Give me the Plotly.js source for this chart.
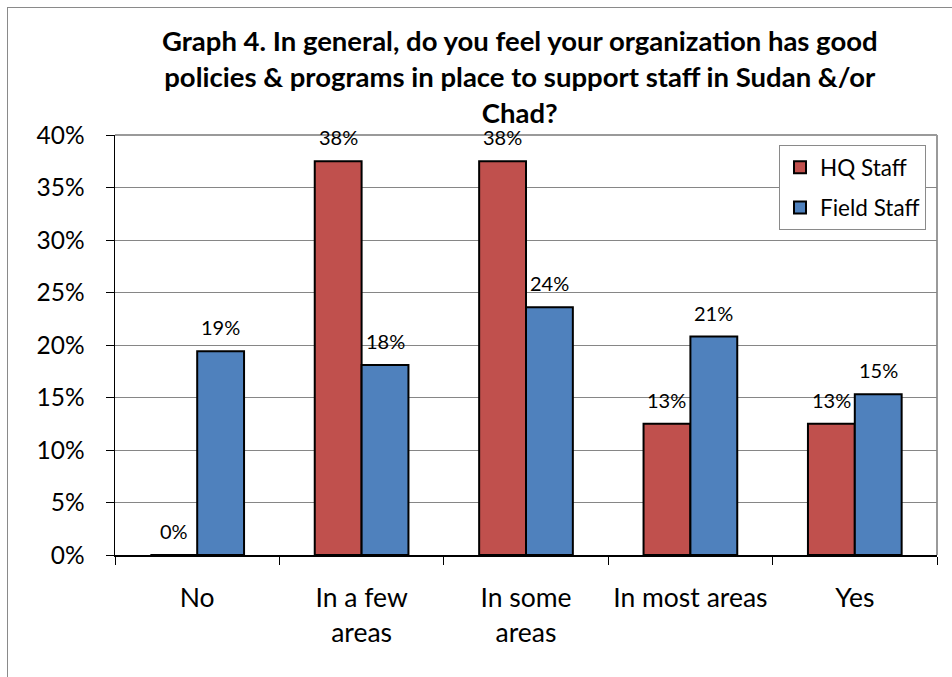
<!DOCTYPE html>
<html>
<head>
<meta charset="utf-8">
<script src="https://cdn.plot.ly/plotly-3.0.1.min.js"></script>
<style>
  html, body { margin: 0; padding: 0; background: #ffffff; }
  #frame { position: absolute; left: 7px; top: 7px; width: 1000px; height: 1000px;
           border: 1px solid #8a8a8a; box-sizing: border-box; }
  #chart { position: absolute; left: 0; top: 0; width: 952px; height: 677px; }
</style>
</head>
<body>
<div id="frame"></div>
<div id="chart"></div>
<script>
// Survey answers, share of respondents (%)
const categories = ["No", "In a few<br>areas", "In some<br>areas", "In most areas", "Yes"];
const hqStaff    = [0, 37.5, 37.5, 12.5, 12.5];
const fieldStaff = [19.4, 18.1, 23.6, 20.8, 15.3];
const seriesNames = ["HQ Staff", "Field Staff"];
const yTicks = [0, 5, 10, 15, 20, 25, 30, 35, 40];

const FONT = "Lato, 'Open Sans', sans-serif";
const BAR_GAP = 0.43;
const halfBar = (1 - BAR_GAP) / 4;

const traces = [
  { name: seriesNames[0], values: hqStaff, color: "#C0504D" },
  { name: seriesNames[1], values: fieldStaff, color: "#4F81BD" }
].map((s, k) => ({
  type: "bar",
  name: s.name,
  x: categories,
  y: s.values,
  legendgroup: "g" + k,
  marker: { color: s.color, line: { color: "#000000", width: 2 } },
  hoverinfo: "skip"
}));

// value labels above each bar
const labels = [];
[hqStaff, fieldStaff].forEach((vals, k) => {
  vals.forEach((v, i) => {
    labels.push({
      x: i + (k === 0 ? -halfBar : halfBar),
      y: v,
      xref: "x", yref: "y",
      text: v.toFixed(0) + "%",
      showarrow: false,
      xanchor: "center", yanchor: "middle",
      yshift: 24,
      font: { family: FONT, size: 20, color: "#000000" }
    });
  });
});

const layout = {
  width: 952, height: 677,
  margin: { l: 115, r: 15, t: 135, b: 122 },
  paper_bgcolor: "rgba(0,0,0,0)",
  plot_bgcolor: "#ffffff",
  barmode: "group",
  bargap: BAR_GAP,
  bargroupgap: 0,
  title: {
    text: "Graph 4. In general, do you feel your organization has good<br>policies &amp; programs in place to support staff in Sudan &amp;/or<br>Chad?",
    font: { family: FONT, size: 27.5, color: "#000000", weight: "bold" },
    xref: "container", x: 0.546, xanchor: "center",
    yref: "container", y: 1 - 51 / 677, yanchor: "middle"
  },
  showlegend: true,
  legend: {
    x: (779 - 115) / 822, y: (555 - 145) / 420,
    xanchor: "left", yanchor: "top",
    bgcolor: "#ffffff", bordercolor: "#8a8a8a", borderwidth: 1,
    font: { family: FONT, size: 22.5, color: "#000000" },
    traceorder: "grouped", tracegroupgap: 8,
    itemwidth: 30
  },
  xaxis: {
    type: "category",
    tickson: "boundaries",
    tickangle: 0,
    ticks: "outside", ticklen: 8, tickcolor: "#000000", tickwidth: 1,
    showline: true, linecolor: "#000000", linewidth: 1.5,
    showgrid: false,
    tickfont: { family: FONT, size: 26.5, color: "#000000" },
    ticklabelstandoff: 19,
    fixedrange: true
  },
  yaxis: {
    range: [0, 40],
    tickvals: yTicks,
    ticktext: yTicks.map(t => t + "%"),
    ticks: "outside", ticklen: 8, tickcolor: "#000000", tickwidth: 1,
    showline: true, linecolor: "#000000", linewidth: 1.5,
    showgrid: true, gridcolor: "#868686", gridwidth: 1,
    zeroline: false,
    tickfont: { family: FONT, size: 24.5, color: "#000000" },
    ticklabelstandoff: 16,
    fixedrange: true
  },
  shapes: [
    { type: "line", xref: "paper", yref: "paper", x0: 1, x1: 1, y0: 0, y1: 1,
      line: { color: "#9a9a9a", width: 2 }, layer: "below" },
    { type: "line", xref: "paper", yref: "paper", x0: 0, x1: 1, y0: 1, y1: 1,
      line: { color: "#9a9a9a", width: 2 }, layer: "below" }
  ],
  annotations: labels
};

Plotly.newPlot("chart", traces, layout, { displayModeBar: false, staticPlot: true });
</script>
</body>
</html>
